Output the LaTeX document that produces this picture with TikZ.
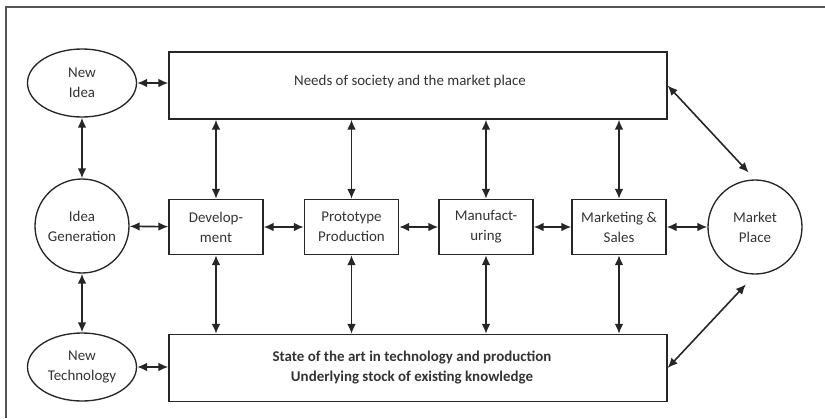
\documentclass[tikz,border=0pt]{standalone}
\usepackage{fontspec}
\setmainfont{Carlito}
\usetikzlibrary{arrows.meta,shapes.geometric}
\definecolor{linegray}{HTML}{262626}
\definecolor{textgray}{HTML}{333333}
\definecolor{framegray}{HTML}{555555}
\tikzset{every edge/.style={draw, linegray, line width=1.2pt, {Latex[length=7.5pt,width=6.5pt]}-{Latex[length=7.5pt,width=6.5pt]}}}
\tikzset{
  every node/.style={text=textgray, align=center, inner sep=0pt, font=\fontsize{11.2}{15}\selectfont},
  stagebox/.style={draw=linegray, line width=1pt, minimum width=70.5pt, minimum height=41.25pt},
  widebox/.style={draw=linegray, line width=1pt, minimum width=373.5pt, minimum height=50.25pt},
  oval/.style={ellipse, draw=linegray, line width=1pt, minimum width=81.75pt, minimum height=51pt},
  hub/.style={circle, draw=linegray, line width=1pt, minimum size=70.5pt}
}

\begin{document}
\begin{tikzpicture}[x=0.75pt, y=-0.75pt]
    \path[use as bounding box] (0, 0) rectangle (825, 418);
    \draw[framegray, line width=1pt] (6, 418) -- (6, 7) -- (825, 7);

    \node[oval] at (82, 83) (newidea) {New\\Idea};
    \node[hub] at (82, 226) (ideagen) {Idea\\Generation};
    \node[oval] at (82, 367) (newtech) {New\\Technology};
    \node[hub] at (755, 227) (market) {Market\\Place};

    \node[widebox] at (418, 85.5) (needs) {};
    \node at (410, 82) (needstext) {Needs of society and the market place};
    \node[widebox] at (418, 368) (state) {};
    \node[font=\fontsize{11.2}{15}\selectfont\bfseries] at (412, 368) (statetext) {State of the art in technology and production\\Underlying stock of existing knowledge};

    \node[stagebox] at (216, 227) (devel) {Develop-\\ment};
    \node[stagebox] at (351.5, 227) (proto) {Prototype\\Production};
    \node[stagebox] at (486, 227) (manuf) {Manufact-\\uring};
    \node[stagebox] at (619, 227) (mktsales) {Marketing \&\\Sales};

    % left column
    \draw (newidea) edge (ideagen);
    \draw (ideagen) edge (newtech);
    \draw (newidea) edge (newidea -| needs.west);
    \draw (newtech) edge (newtech -| state.west);

    % middle row
    \draw (ideagen) edge (devel);
    \draw (devel) edge (proto);
    \draw (proto) edge (manuf);
    \draw (manuf) edge (mktsales);
    \draw (mktsales) edge (market);

    % up and down
    \foreach \s in {devel, proto, manuf, mktsales} {
        \draw (\s) edge (\s |- needs.south);
        \draw (\s) edge (\s |- state.north);
    }

    \draw (needs.east) edge[shorten >=7pt] (market.north);
    \draw (state.east) edge[shorten >=10pt] (market.south);
\end{tikzpicture}
\end{document}
